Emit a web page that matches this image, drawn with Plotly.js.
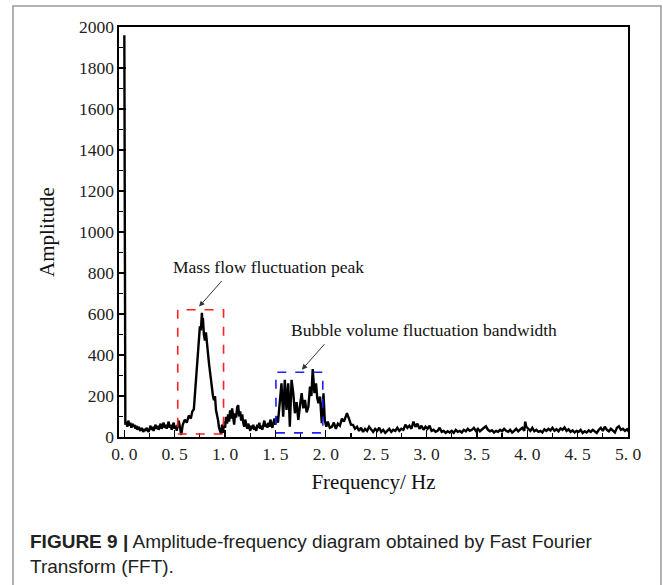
<!DOCTYPE html>
<html>
<head>
<meta charset="utf-8">
<script src="https://cdn.plot.ly/plotly-3.0.1.min.js"></script>
<style>
  html, body { margin: 0; padding: 0; background: #fff; }
  #chart { width: 663px; height: 585px; }
</style>
</head>
<body>
<div id="chart"></div>
<script>
// ---- data ----
const freq = [
  0.000, 0.010, 0.020, 0.030, 0.040, 0.050, 0.060, 0.070, 0.080, 0.090,
  0.100, 0.110, 0.120, 0.130, 0.140, 0.150, 0.160, 0.170, 0.180, 0.190,
  0.200, 0.210, 0.220, 0.230, 0.240, 0.250, 0.260, 0.270, 0.280, 0.290,
  0.300, 0.310, 0.320, 0.330, 0.340, 0.350, 0.360, 0.370, 0.380, 0.390,
  0.400, 0.410, 0.420, 0.430, 0.440, 0.450, 0.460, 0.470, 0.480, 0.490,
  0.500, 0.510, 0.520, 0.530, 0.540, 0.555, 0.565, 0.580, 0.600, 0.620,
  0.640, 0.660, 0.675, 0.690, 0.700, 0.710, 0.720, 0.730, 0.740, 0.750,
  0.760, 0.770, 0.775, 0.780, 0.790, 0.800, 0.810, 0.820, 0.830, 0.840,
  0.850, 0.860, 0.870, 0.880, 0.890, 0.900, 0.910, 0.920, 0.930, 0.940,
  0.950, 0.960, 0.970, 0.980, 0.990, 1.000, 1.010, 1.020, 1.030, 1.040,
  1.050, 1.060, 1.070, 1.080, 1.090, 1.100, 1.110, 1.120, 1.130, 1.140,
  1.150, 1.160, 1.170, 1.180, 1.190, 1.200, 1.210, 1.220, 1.230, 1.240,
  1.250, 1.260, 1.270, 1.280, 1.290, 1.300, 1.310, 1.320, 1.330, 1.340,
  1.350, 1.360, 1.370, 1.380, 1.390, 1.400, 1.410, 1.420, 1.430, 1.440,
  1.450, 1.460, 1.470, 1.480, 1.490, 1.500, 1.510, 1.525, 1.543, 1.560,
  1.577, 1.593, 1.610, 1.627, 1.643, 1.660, 1.677, 1.693, 1.710, 1.727,
  1.743, 1.760, 1.777, 1.793, 1.810, 1.827, 1.843, 1.857, 1.870, 1.887,
  1.903, 1.915, 1.927, 1.943, 1.960, 1.977, 1.990, 2.005, 2.020, 2.040,
  2.060, 2.080, 2.100, 2.120, 2.140, 2.160, 2.180, 2.200, 2.210, 2.230,
  2.250, 2.270, 2.290, 2.310, 2.330, 2.350, 2.370, 2.390, 2.410, 2.430,
  2.450, 2.470, 2.490, 2.510, 2.530, 2.550, 2.570, 2.590, 2.610, 2.630,
  2.650, 2.670, 2.690, 2.710, 2.730, 2.750, 2.770, 2.790, 2.810, 2.830,
  2.850, 2.870, 2.890, 2.910, 2.930, 2.950, 2.970, 2.990, 3.010, 3.030,
  3.050, 3.070, 3.090, 3.110, 3.130, 3.150, 3.170, 3.190, 3.210, 3.230,
  3.250, 3.270, 3.290, 3.310, 3.330, 3.350, 3.370, 3.390, 3.410, 3.430,
  3.450, 3.470, 3.490, 3.510, 3.530, 3.550, 3.570, 3.590, 3.610, 3.630,
  3.650, 3.670, 3.690, 3.710, 3.730, 3.750, 3.770, 3.790, 3.810, 3.830,
  3.850, 3.870, 3.890, 3.910, 3.930, 3.950, 3.970, 3.980, 3.990, 4.010,
  4.030, 4.050, 4.070, 4.090, 4.110, 4.130, 4.150, 4.170, 4.190, 4.210,
  4.230, 4.250, 4.270, 4.290, 4.310, 4.330, 4.350, 4.370, 4.390, 4.410,
  4.430, 4.450, 4.470, 4.490, 4.510, 4.530, 4.550, 4.570, 4.590, 4.610,
  4.630, 4.650, 4.670, 4.690, 4.710, 4.730, 4.750, 4.770, 4.790, 4.810,
  4.830, 4.850, 4.870, 4.890, 4.910, 4.930, 4.950, 4.970, 4.990, 5.010
];
const amplitude = [
  1960, 60, 75, 50, 80, 55, 70, 45, 65, 50,
  60, 40, 55, 35, 50, 40, 30, 45, 35, 25,
  40, 30, 45, 35, 25, 40, 55, 35, 50, 30,
  45, 60, 40, 55, 35, 50, 65, 40, 55, 70,
  45, 60, 40, 55, 75, 45, 60, 35, 50, 70,
  40, 55, 30, 60, 80, 40, 10, 60, 85, 70,
  105, 90, 125, 135, 200, 300, 330, 420, 470, 540,
  520, 606, 560, 580, 500, 470, 510, 440, 410, 360,
  320, 264, 240, 200, 180, 200, 130, 110, 83, 45,
  25, 15, 60, 20, 75, 45, 98, 65, 110, 75,
  130, 90, 140, 85, 60, 115, 95, 145, 155, 100,
  125, 80, 110, 70, 50, 85, 55, 40, 65, 45,
  30, 55, 40, 60, 35, 50, 30, 60, 45, 70,
  40, 55, 35, 60, 80, 50, 65, 45, 70, 50,
  85, 60, 45, 70, 90, 60, 100, 70, 181, 262,
  99, 279, 132, 262, 50, 279, 214, 116, 170, 83,
  150, 214, 140, 181, 120, 148, 246, 200, 331, 214,
  262, 190, 165, 197, 67, 213, 80, 50, 75, 45,
  50, 70, 40, 65, 55, 90, 75, 110, 116, 90,
  60, 59, 40, 50, 30, 45, 25, 40, 30, 50,
  35, 25, 40, 30, 45, 25, 35, 20, 30, 40,
  25, 35, 30, 45, 30, 40, 35, 60, 45, 55,
  40, 75, 50, 65, 40, 55, 35, 50, 40, 55,
  30, 35, 25, 30, 45, 25, 30, 20, 28, 22,
  30, 20, 35, 25, 30, 22, 35, 28, 40, 30,
  35, 45, 30, 40, 28, 38, 45, 52, 35, 28,
  33, 22, 30, 25, 35, 28, 40, 30, 25, 35,
  22, 30, 40, 28, 35, 45, 30, 75, 50, 40,
  30, 45, 28, 35, 25, 30, 22, 38, 30, 40,
  32, 45, 30, 38, 28, 42, 35, 47, 30, 38,
  25, 32, 22, 30, 25, 35, 20, 28, 22, 32,
  25, 35, 28, 20, 35, 45, 30, 50, 35, 28,
  40, 32, 22, 45, 52, 35, 40, 30, 38, 25
];
const xTickVals = [0, 0.5, 1, 1.5, 2, 2.5, 3, 3.5, 4, 4.5, 5];
const xTickText = ["0. 0", "0. 5", "1. 0", "1. 5", "2. 0", "2. 5", "3. 0", "3. 5", "4. 0", "4. 5", "5. 0"];
const yTickVals = [0, 200, 400, 600, 800, 1000, 1200, 1400, 1600, 1800, 2000];

// highlighted regions [x0, x1, y0, y1]
const massFlowBox = [0.53, 0.985, 15, 621];
const bubbleBox = [1.505, 1.97, 20, 316];
// annotation labels: text, text position, arrow tail, arrow tip
const massFlowLabel = "Mass flow fluctuation peak";
const massFlowTextPos = [1.427, 831];
const massFlowArrow = [[0.98, 768], [0.742, 636]];
const bubbleLabel = "Bubble volume fluctuation bandwidth";
const bubbleTextPos = [2.976, 523];
const bubbleArrow = [[2.0, 460], [1.762, 328]];
const xTitle = "Frequency/ Hz";
const yTitle = "Amplitude";
const captionLine1 = "<b>FIGURE 9 |</b> Amplitude-frequency diagram obtained by Fast Fourier";
const captionLine2 = "Transform (FFT).";

const serif = "Liberation Serif, Times New Roman, serif";
const sans = "Liberation Sans, Arial, sans-serif";

const trace = {
  x: freq, y: amplitude, type: "scatter", mode: "lines",
  line: { color: "#000", width: 2.4 }, hoverinfo: "x+y"
};

function boxShape(b, color) {
  return { type: "rect", xref: "x", yref: "y", x0: b[0], x1: b[1], y0: b[2], y1: b[3],
    line: { color: color, width: 1.6, dash: "dash" }, fillcolor: "rgba(0,0,0,0)", layer: "above" };
}
function arrowAnn(a) {
  return { xref: "x", yref: "y", axref: "x", ayref: "y", x: a[1][0], y: a[1][1], ax: a[0][0], ay: a[0][1],
    text: "", showarrow: true, arrowhead: 2, arrowsize: 1.1, arrowwidth: 1, arrowcolor: "#333" };
}

const layout = {
  width: 663, height: 585,
  margin: { l: 119, r: 35, t: 27, b: 148 },
  paper_bgcolor: "#fff", plot_bgcolor: "#fff",
  showlegend: false,
  xaxis: {
    range: [-0.053, 5.0], tickmode: "array", tickvals: xTickVals, ticktext: xTickText,
    ticks: "inside", ticklen: 7, tickwidth: 1.3, tickcolor: "#000",
    minor: { dtick: 0.25, ticks: "inside", ticklen: 4, tickwidth: 1.2, tickcolor: "#000" },
    showline: true, linecolor: "#000", linewidth: 1.6, mirror: true,
    showgrid: false, zeroline: false,
    tickfont: { family: serif, size: 17.5, color: "#222" },
    title: { text: xTitle, font: { family: serif, size: 21, color: "#111" }, standoff: 12 }
  },
  yaxis: {
    range: [0, 2000], tickmode: "array", tickvals: yTickVals,
    ticks: "inside", ticklen: 7, tickwidth: 1.3, tickcolor: "#000",
    minor: { dtick: 100, ticks: "inside", ticklen: 4, tickwidth: 1.2, tickcolor: "#000" },
    showline: true, linecolor: "#000", linewidth: 1.6, mirror: true,
    showgrid: false, zeroline: false,
    tickfont: { family: serif, size: 17.5, color: "#222" },
    title: { text: yTitle, font: { family: serif, size: 21, color: "#111" }, standoff: 18 }
  },
  shapes: [
    boxShape(massFlowBox, "#ff2020"),
    boxShape(bubbleBox, "#2020ff"),
    { type: "rect", xref: "paper", yref: "paper", x0: -0.2083, x1: 1.0648, y0: -0.40, y1: 1.0512,
      line: { color: "#9a9a9a", width: 1.5 }, fillcolor: "rgba(0,0,0,0)", layer: "below" }
  ],
  annotations: [
    { xref: "x", yref: "y", x: massFlowTextPos[0], y: massFlowTextPos[1], text: massFlowLabel,
      showarrow: false, font: { family: serif, size: 17.5, color: "#111" } },
    { xref: "x", yref: "y", x: bubbleTextPos[0], y: bubbleTextPos[1], text: bubbleLabel,
      showarrow: false, font: { family: serif, size: 17.5, color: "#111" } },
    arrowAnn(massFlowArrow),
    arrowAnn(bubbleArrow),
    { xref: "paper", yref: "paper", x: -0.1788, y: -0.2537, xanchor: "left", yanchor: "middle",
      text: captionLine1, showarrow: false, font: { family: sans, size: 19, color: "#222" } },
    { xref: "paper", yref: "paper", x: -0.1788, y: -0.317, xanchor: "left", yanchor: "middle",
      text: captionLine2, showarrow: false, font: { family: sans, size: 19, color: "#222" } }
  ]
};

Plotly.newPlot("chart", [trace], layout, { staticPlot: true, displayModeBar: false });
</script>
</body>
</html>
